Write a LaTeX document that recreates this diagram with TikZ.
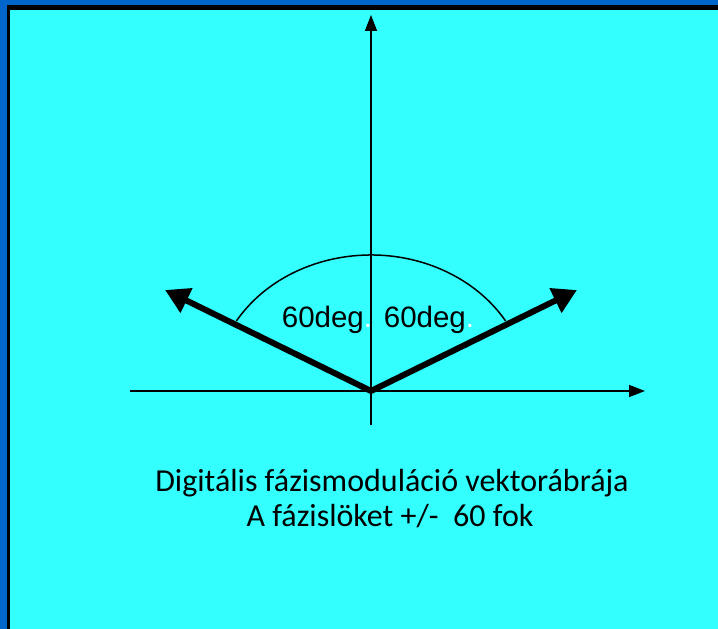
\documentclass[tikz,border=0pt]{standalone}
\usepackage{fontspec}
\setmainfont{Carlito}
\newfontfamily\arialfont{Liberation Sans}
\usepackage{xcolor}
\usepackage{tikz}
\usetikzlibrary{arrows.meta}
\usetikzlibrary{positioning}

\definecolor{outerblue}{HTML}{0066CC}
\definecolor{panelcyan}{HTML}{33FFFF}

\begin{document}
\begin{tikzpicture}[
    x=1pt, y=1pt,
    axis/.style={line width=1.5pt, -{Triangle[length=16pt,width=12pt]}},
    vector/.style={line width=6pt, -{Triangle[length=24pt,width=26pt]}},
    deglabel/.style={font=\arialfont\fontsize{29.5}{31}\selectfont, inner sep=0pt, anchor=base},
    caption/.style={font=\fontsize{32}{35}\selectfont, align=center, inner sep=0pt, anchor=base},
  ]
  \useasboundingbox (0,0) rectangle (718,629);

  % Frame
  \fill[outerblue] (0,0) rectangle (718,629);
  \fill[black] (7,0) rectangle (718,624);
  \fill[panelcyan] (10,0) rectangle (718,619);

  % Axes
  \coordinate (O) at (371,238);
  \coordinate (xstart) at (130,238);
  \coordinate (xend) at (645,238);
  \coordinate (ystart) at (371,204);
  \coordinate (yend) at (371,614);

  \draw[axis] (xstart) -- (xend);
  \draw[axis] (ystart) -- (yend);

  % Phase vectors
  \coordinate (left) at (165,339);
  \coordinate (right) at (577,339);

  \draw[vector] (O) -- (left);
  \draw[vector] (O) -- (right);

  % Angle arc
  \draw[line width=1.5pt] ([shift={(149:157 and 136)}]O) arc[start angle=149, end angle=31, x radius=157, y radius=136];

  % Angle labels
  \node[deglabel] (degL) at (327,301) {60deg\textcolor{white}{.}};
  \node[deglabel] (degR) at (429,301) {60deg\textcolor{white}{.}};

  % Caption
  \node[caption] (cap1) at (392,137) {Digitális fázismoduláció vektorábrája};
  \node[caption] (cap2) at (390,102) {A fázislöket +/-~~60 fok};

\end{tikzpicture}
\end{document}
